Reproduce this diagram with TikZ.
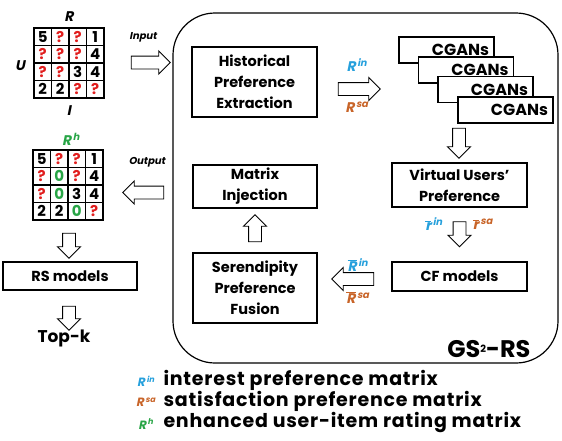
\documentclass[tikz,border=0pt]{standalone}
\usepackage{fontspec}
\setmainfont{Poppins}[ItalicFont={*}, ItalicFeatures={FakeSlant=0.2},
  BoldItalicFont={* Bold}, BoldItalicFeatures={FakeSlant=0.2}]
\usetikzlibrary{shapes.arrows}
\definecolor{inblue}{RGB}{38,160,220}
\definecolor{saorange}{RGB}{200,100,40}
\definecolor{hgreen}{RGB}{40,165,70}
\definecolor{qred}{RGB}{225,30,30}
\newcommand{\qm}{\textcolor{qred}{?}}
\newcommand{\zg}{\textcolor{hgreen}{0}}
\newcommand{\bartext}[1]{$\overline{\mbox{#1}}$}
\newcommand{\supx}[1]{\kern1.5pt\textsuperscript{#1}}
\tikzset{
  stage/.style={draw, line width=1.5pt, fill=white, align=center, inner sep=2pt,
    font=\fontsize{14.5}{21}\selectfont\bfseries},
  cgan/.style={stage, minimum height=26pt, text width=85pt, align=right, inner xsep=5pt,
    font=\fontsize{16}{16}\selectfont\bfseries},
  cell/.style={draw, line width=1.3pt, minimum size=17.5pt, inner sep=0pt,
    font=\fontsize{15}{15}\selectfont\bfseries},
  blockarr/.style={single arrow, draw, fill=white, line width=0.9pt, inner sep=6pt,
    single arrow head extend=5pt, single arrow head indent=0pt},
  lbl/.style={font=\fontsize{14}{14}\selectfont\bfseries\itshape},
  keylbl/.style={font=\fontsize{12}{12}\selectfont\bfseries\itshape},
  legend/.style={anchor=west, font=\fontsize{19}{19}\selectfont\bfseries\addfontfeatures{LetterSpace=4}},
}
\begin{document}
\begin{tikzpicture}[x=1pt,y=-1pt]
\useasboundingbox (0,0) rectangle (562,440);

% input matrix
\foreach \v [count=\i from 0] in {5,\qm,\qm,1,\qm,\qm,\qm,4,\qm,\qm,3,4,2,2,\qm,\qm}{
  \pgfmathtruncatemacro\c{mod(\i,4)}
  \pgfmathtruncatemacro\r{div(\i,4)}
  \node[cell] (a\i) at (42.75+17.5*\c, 36.75+17.5*\r) {\v};
}
\node[lbl] (lr) at (69,17) {R};
\node[lbl] (lu) at (20,66) {U};
\node[lbl] (li) at (69,111) {I};

% enhanced matrix
\foreach \v [count=\i from 0] in {5,\qm,\qm,1,\qm,\zg,\qm,4,\qm,\zg,3,4,2,2,\zg,\qm}{
  \pgfmathtruncatemacro\c{mod(\i,4)}
  \pgfmathtruncatemacro\r{div(\i,4)}
  \node[cell] (b\i) at (41.75+17.5*\c, 158.75+17.5*\r) {\v};
}
\node[lbl, text=hgreen] (lrh) at (71,139) {R\supx{h}};

% framework
\node[draw, line width=1.2pt, rounded corners=42pt, minimum width=385pt, minimum height=350pt] (gs) at (365.5,188) {};
\node[font=\fontsize{24}{24}\selectfont\bfseries, anchor=south east] (gsname) at (534,361)
  {GS\raisebox{5pt}{\fontsize{10}{10}\selectfont 2}-RS};

\node[stage, minimum width=125pt, minimum height=70pt] (hist) at (254.5,82) {Historical\\Preference\\Extraction};
\node[stage, minimum width=124pt, minimum height=43pt] (inj) at (255,186.5) {Matrix\\Injection};
\node[stage, minimum width=124pt, minimum height=70pt] (fus) at (255,288) {Serendipity\\Preference\\Fusion};
\node[cgan] (g1) at (446.5,50) {CGANs};
\node[cgan] (g2) at (466,70) {CGANs};
\node[cgan] (g3) at (485.5,89.5) {CGANs};
\node[cgan] (g4) at (505.5,110) {CGANs};
\node[stage, minimum width=135pt, minimum height=44pt] (vup) at (459.5,185) {Virtual Users’\\Preference};
\node[stage, minimum width=135pt, minimum height=29pt] (cf) at (459.5,276.5) {CF models};
\node[stage, minimum width=134pt, minimum height=28pt] (rs) at (70,276) {RS models};
\node[font=\fontsize{17}{17}\selectfont\bfseries] (topk) at (64,338) {Top-k};

% block arrows
\node[blockarr, minimum height=39pt] (inarr) at (147.5,62.5) {};
\node[blockarr, minimum height=42pt] (rarr) at (356,89) {};
\node[blockarr, minimum height=30pt, rotate=-90] (ganarr) at (459,140) {};
\node[blockarr, minimum height=25pt, rotate=-90] (vuparr) at (459.5,231) {};
\node[blockarr, minimum height=42pt, rotate=180] (cfarr) at (356,279) {};
\node[blockarr, minimum height=27pt, rotate=90] (fusarr) at (255,231.5) {};
\node[blockarr, minimum height=41pt, rotate=180] (outarr) at (146.5,192.5) {};
\node[blockarr, minimum height=25pt, rotate=-90] (rharr) at (69,242.5) {};
\node[blockarr, minimum height=24pt, rotate=-90] (rsarr) at (69,315) {};

% arrow labels
\node[font=\fontsize{10}{10}\selectfont\bfseries\itshape] (lin) at (143,37) {Input};
\node[font=\fontsize{10}{10}\selectfont\bfseries\itshape] (lout) at (147,162) {Output};
\node[lbl, text=inblue] (rin) at (357,65) {R\supx{in}};
\node[lbl, text=saorange] (rsa) at (357,107) {R\supx{sa}};
\node[lbl, text=inblue] (vin) at (434,224) {\bartext{r}\supx{in}};
\node[lbl, text=saorange] (vsa) at (483,224) {\bartext{r}\supx{sa}};
\node[lbl, text=inblue] (fin) at (358,265) {\bartext{R}\supx{in}};
\node[lbl, text=saorange] (fsa) at (358,298) {\bartext{R}\supx{sa}};

% legend
\node[keylbl, text=inblue] (k1) at (146,381) {R\supx{in}};
\node[keylbl, text=saorange] (k2) at (146,402) {R\supx{sa}};
\node[keylbl, text=hgreen] (k3) at (146,424) {R\supx{h}};
\node[legend] (t1) at (160,380) {interest preference matrix};
\node[legend] (t2) at (160,401) {satisfaction preference matrix};
\node[legend] (t3) at (160,422) {enhanced user-item rating matrix};
\end{tikzpicture}
\end{document}
